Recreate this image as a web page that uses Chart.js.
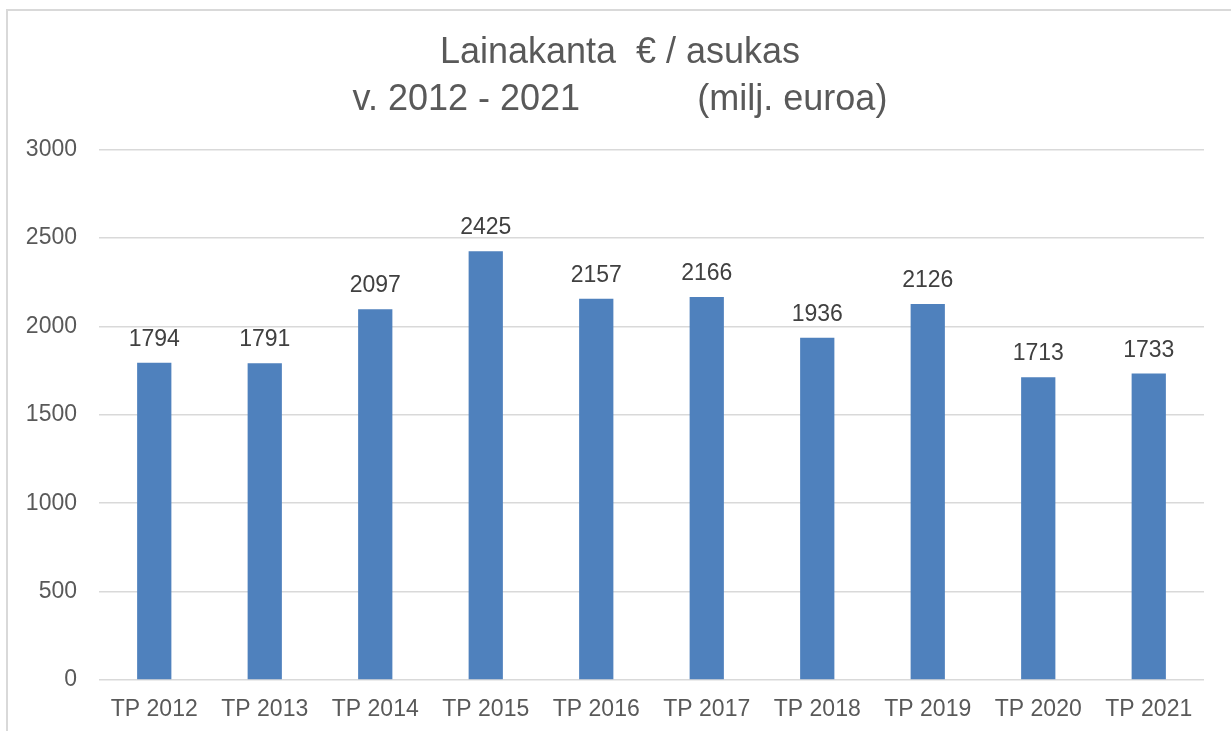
<!DOCTYPE html>
<html>
<head>
<meta charset="utf-8">
<script src="https://cdn.jsdelivr.net/npm/chart.js@4"></script>
<style>
  html, body { margin: 0; padding: 0; background: #fff; overflow: hidden; }
  #frame {
    position: absolute; left: 6px; top: 9px; width: 1400px; height: 900px;
    border-left: 2px solid #d9d9d9; border-top: 2px solid #d9d9d9;
  }
  #wrap { position: absolute; left: 0; top: 0; width: 1231px; height: 731px; }
</style>
</head>
<body>
<div id="frame"></div>
<div id="wrap"><canvas id="chart"></canvas></div>
<script>
const years = ['TP 2012', 'TP 2013', 'TP 2014', 'TP 2015', 'TP 2016', 'TP 2017', 'TP 2018', 'TP 2019', 'TP 2020', 'TP 2021'];
const loanPerResident = [1794, 1791, 2097, 2425, 2157, 2166, 1936, 2126, 1713, 1733];
const yTicks = [0, 500, 1000, 1500, 2000, 2500, 3000];

const font = "'Liberation Sans', Arial, sans-serif";

// value labels above the bars
const barLabels = {
  id: 'barLabels',
  afterDatasetsDraw(chart) {
    const ctx = chart.ctx;
    const meta = chart.getDatasetMeta(0);
    ctx.save();
    ctx.font = '23px ' + font;
    ctx.fillStyle = '#404040';
    ctx.textAlign = 'center';
    ctx.textBaseline = 'alphabetic';
    meta.data.forEach((bar, i) => {
      ctx.fillText(String(chart.data.datasets[0].data[i]), bar.x, bar.y - 17);
    });
    ctx.restore();
  }
};

new Chart(document.getElementById('chart'), {
  type: 'bar',
  data: {
    labels: years,
    datasets: [{
      data: loanPerResident,
      backgroundColor: '#4f81bd',
      borderWidth: 0,
      categoryPercentage: 1,
      barPercentage: 0.31
    }]
  },
  options: {
    responsive: true,
    maintainAspectRatio: false,
    animation: false,
    layout: { padding: { left: 9, right: 0, top: 11, bottom: 0 } },
    plugins: {
      legend: { display: false },
      tooltip: { enabled: false },
      title: {
        display: true,
        text: ['Lainakanta \u00a0€ / asukas', 'v. 2012 - 2021 \u00a0\u00a0\u00a0\u00a0\u00a0\u00a0\u00a0\u00a0\u00a0\u00a0\u2009(milj. euroa)'],
        color: '#595959',
        font: { family: font, size: 36, weight: 'normal', lineHeight: 1.3 },
        padding: { top: 19, bottom: 26 }
      }
    },
    scales: {
      x: {
        grid: { display: false },
        border: { display: false },
        afterFit: (scale) => { scale.height = 51; },
        ticks: { color: '#595959', font: { family: font, size: 23 }, padding: 8, maxRotation: 0 }
      },
      y: {
        min: 0,
        max: 3000,
        afterBuildTicks: (scale) => { scale.ticks = yTicks.map(v => ({ value: v })); },
        afterFit: (scale) => { scale.width = 90; },
        grid: { color: '#d9d9d9', lineWidth: 1.5, drawTicks: false },
        border: { display: false },
        ticks: { color: '#595959', font: { family: font, size: 23 }, padding: 22, callback: (v) => String(v) }
      },
      // empty right-hand margin
      yRight: {
        position: 'right',
        min: 0,
        max: 3000,
        afterFit: (scale) => { scale.width = 27; },
        grid: { display: false, drawTicks: false },
        border: { display: false },
        ticks: { display: false }
      }
    }
  },
  plugins: [barLabels]
});
</script>
</body>
</html>
